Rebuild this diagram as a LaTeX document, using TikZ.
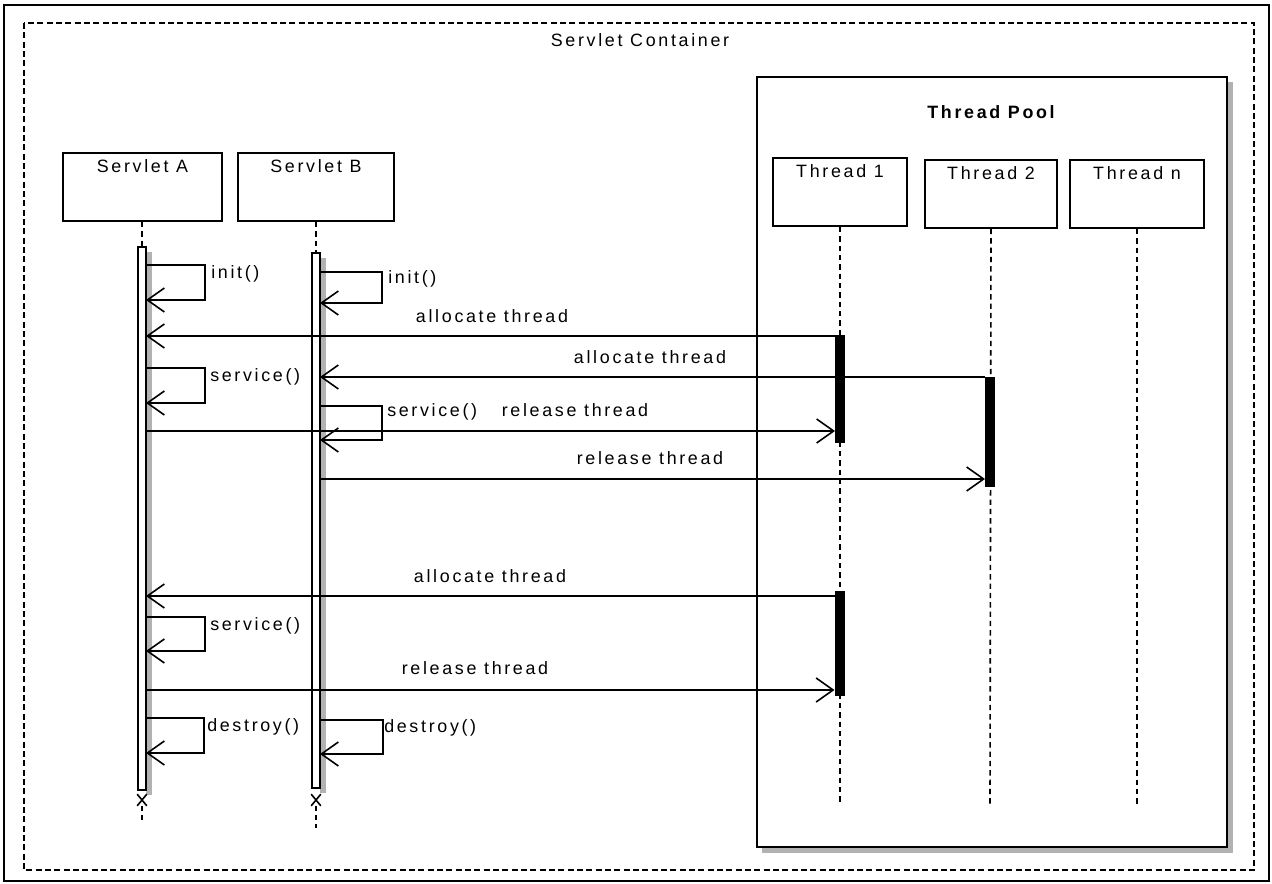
\documentclass[tikz,border=0pt]{standalone}
\usepackage{fontspec}
\setmainfont{Liberation Sans}[LetterSpace=15]
\usetikzlibrary{arrows.meta,shapes.misc}
\begin{document}
\begin{tikzpicture}[x=0.75pt,y=-0.75pt,
  every node/.style={font=\fontsize{13.4pt}{15pt}\selectfont, inner sep=0pt},
  outerframe/.style={line width=1pt},
  contframe/.style={line width=1.6pt, dash pattern=on 4.5pt off 2.5pt},
  lifebox/.style={draw, line width=1.3pt, fill=white, minimum height=68*0.75pt},
  boxlbl/.style={anchor=north, yshift=-5pt},
  lifeline/.style={line width=1.2pt, dash pattern=on 4pt off 3pt},
  sbar/.style={draw, line width=1.2pt, fill=white, minimum width=8*0.75pt},
  tbar/.style={fill=black, minimum width=10*0.75pt},
  shade/.style={fill=black!30},
  msg/.style={line width=1.2pt, -{Straight Barb[length=12.75pt,width=18pt,line width=1.2pt]}},
  lbl/.style={anchor=center},
  slbl/.style={anchor=west},
  xmark/.style={cross out, draw, line width=1.2pt, minimum width=8*0.75pt, minimum height=10*0.75pt}
]
\useasboundingbox (0,0) rectangle (1272,884);
% frames
\draw[outerframe] (4,5) rectangle (1269,881);
\draw[contframe] (24,23) rectangle (1254,870);
\node[lbl] (ctitle) at (640,40) {Servlet Container};

% thread pool
\fill[shade] (762,82) rectangle (1233,853);
\node[draw, line width=1.3pt, fill=white, minimum width=470*0.75pt, minimum height=770*0.75pt] (pool) at (992,462) {};
\node[lbl, font=\fontsize{13.4pt}{15pt}\selectfont\bfseries] (ptitle) at (991,112) {Thread Pool};

% lifeline boxes
\node[lifebox, minimum width=159*0.75pt, label={[boxlbl]north:Servlet A}] (sa) at (142.5,187) {};
\node[lifebox, minimum width=156*0.75pt, label={[boxlbl]north:Servlet B}] (sb) at (316,187) {};
\node[lifebox, minimum width=134*0.75pt, label={[boxlbl]north:Thread 1}] (t1) at (840,192) {};
\node[lifebox, minimum width=132*0.75pt, label={[boxlbl]north:Thread 2}] (t2) at (991,194) {};
\node[lifebox, minimum width=134*0.75pt, label={[boxlbl]north:Thread n}] (tn) at (1137,194) {};

% servlet activation bars with shadows
\fill[shade] (146,252) rectangle (152,795);
\fill[shade] (320,258) rectangle (326,793);
\node[sbar, minimum height=543*0.75pt] (barA) at (142,518.5) {};
\node[sbar, minimum height=535*0.75pt] (barB) at (316,520.5) {};
\node[xmark] (xa) at (142,800) {};
\node[xmark] (xb) at (316,800) {};
\coordinate (endA) at (142,822);
\coordinate (endB) at (316,828);
\draw[lifeline] (sa.south -| barA.north) -- (barA.north);
\draw[lifeline] (sb.south -| barB.north) -- (barB.north);
\draw[lifeline] (xa.south) -- (endA);
\draw[lifeline] (xb.south) -- (endB);

% thread lifelines
\coordinate (t1end) at (840,805);
\coordinate (t2end) at (990,805);
\coordinate (tnend) at (1137,805);
\draw[lifeline] (t1.south) -- (t1end);
\draw[lifeline] (t2.south) -- (t2end);
\draw[lifeline] (tn.south) -- (tnend);

% thread activation bars
\node[tbar, minimum height=108*0.75pt] (t1a) at (840,389) {};
\node[tbar, minimum height=110*0.75pt] (t2a) at (990,432) {};
\node[tbar, minimum height=105*0.75pt] (t1b) at (839.5,643.5) {};

% message end points
\coordinate (aInit1) at (146,265);   \coordinate (aInit2) at (146,300);
\coordinate (bInit1) at (320,272);   \coordinate (bInit2) at (320,303);
\coordinate (alA1) at (835,336);     \coordinate (alA2) at (146,336);
\coordinate (alB1) at (985,377);     \coordinate (alB2) at (320,377);
\coordinate (aSv1) at (146,368);     \coordinate (aSv2) at (146,403);
\coordinate (bSv1) at (320,406);     \coordinate (bSv2) at (320,440);
\coordinate (rlA1) at (146,431);     \coordinate (rlA2) at (835,431);
\coordinate (rlB1) at (320,479);     \coordinate (rlB2) at (985,479);
\coordinate (alC1) at (834.5,596);   \coordinate (alC2) at (146,596);
\coordinate (aSw1) at (146,617);     \coordinate (aSw2) at (146,651);
\coordinate (rlC1) at (146,690);     \coordinate (rlC2) at (834.5,690);
\coordinate (aDs1) at (146,718);     \coordinate (aDs2) at (146,753);
\coordinate (bDs1) at (320,720);     \coordinate (bDs2) at (320,754);

% self calls
\draw[msg] (aInit1) -- ++(59,0) |- (aInit2);
\node[slbl] (lAinit) at (211,274) {init()};
\draw[msg] (bInit1) -- ++(62,0) |- (bInit2);
\node[slbl] (lBinit) at (388,279) {init()};
\draw[msg] (aSv1) -- ++(59,0) |- (aSv2);
\node[slbl] (lAsv) at (210,377) {service()};
\draw[msg] (bSv1) -- ++(62,0) |- (bSv2);
\node[slbl] (lBsv) at (387,412) {service()};
\draw[msg] (aSw1) -- ++(59,0) |- (aSw2);
\node[slbl] (lAsw) at (210,626) {service()};
\draw[msg] (aDs1) -- ++(58,0) |- (aDs2);
\node[slbl] (lAds) at (207,727) {destroy()};
\draw[msg] (bDs1) -- ++(63,0) |- (bDs2);
\node[slbl] (lBds) at (384,728) {destroy()};

% thread messages
\draw[msg] (alA1) -- (alA2);
\node[lbl] (lalA) at (492,316) {allocate thread};
\draw[msg] (alB1) -- (alB2);
\node[lbl] (lalB) at (650,357) {allocate thread};
\draw[msg] (rlA1) -- (rlA2);
\node[lbl] (lrlA) at (575,410) {release thread};
\draw[msg] (rlB1) -- (rlB2);
\node[lbl] (lrlB) at (650,458) {release thread};
\draw[msg] (alC1) -- (alC2);
\node[lbl] (lalC) at (490,576) {allocate thread};
\draw[msg] (rlC1) -- (rlC2);
\node[lbl] (lrlC) at (475,668) {release thread};
\end{tikzpicture}
\end{document}
